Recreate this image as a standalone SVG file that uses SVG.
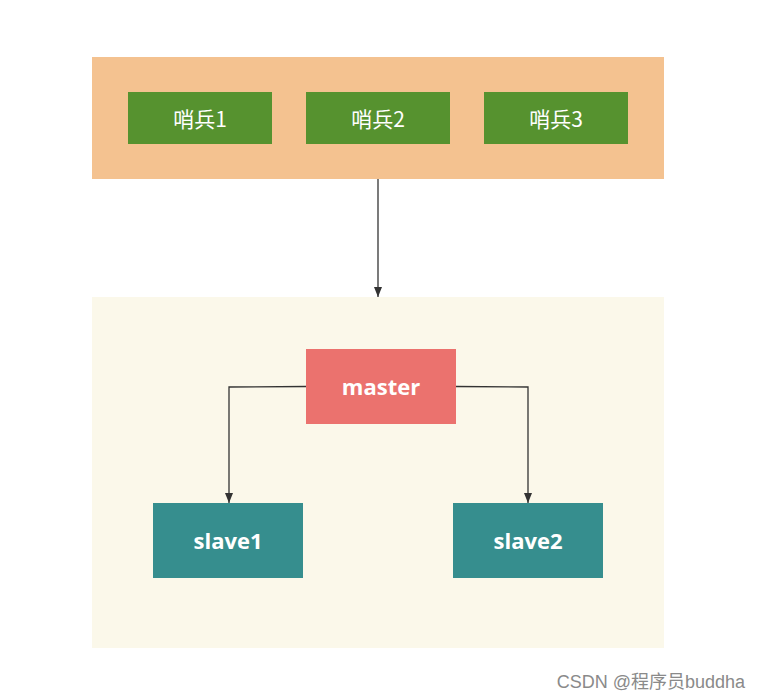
<svg xmlns="http://www.w3.org/2000/svg" width="759" height="700" viewBox="0 0 759 700">
<defs>
<marker id="arr" markerWidth="10" markerHeight="10" refX="10" refY="5" orient="auto" markerUnits="userSpaceOnUse" viewBox="0 0 10 10">
<path d="M0,1 L10,5 L0,9 Z" fill="#333"/>
</marker>
</defs>
<style>
.lbl{font-family:"Noto Sans CJK SC","Noto Sans",sans-serif;fill:#fff;text-anchor:middle;dominant-baseline:central}
.cn{font-size:21px}
.en{font-size:22px;font-weight:bold;font-family:"Open Sans","Noto Sans",sans-serif}
.green{fill:#56922F}
.teal{fill:#368E8E}
.conn{fill:none;stroke:#333;stroke-width:1.3}
</style>
<rect width="759" height="700" fill="#fff"/>
<g id="sentinels">
<rect x="92" y="57" width="572" height="122" fill="#F4C290"/>
</g>
<g id="sentinel1"><rect class="green" x="128" y="92" width="144" height="52"/><text class="lbl cn" x="200" y="118">哨兵1</text></g>
<g id="sentinel2"><rect class="green" x="306" y="92" width="144" height="52"/><text class="lbl cn" x="378" y="118">哨兵2</text></g>
<g id="sentinel3"><rect class="green" x="484" y="92" width="144" height="52"/><text class="lbl cn" x="556" y="118">哨兵3</text></g>
<g id="cluster"><rect x="92" y="297" width="572" height="351" fill="#FBF8EA"/></g>
<g id="master"><rect x="306" y="349" width="150" height="75" fill="#EB726E"/><text class="lbl en" x="381" y="386">master</text></g>
<g id="slave1"><rect class="teal" x="153" y="503" width="150" height="75"/><text class="lbl en" x="228" y="540">slave1</text></g>
<g id="slave2"><rect class="teal" x="453" y="503" width="150" height="75"/><text class="lbl en" x="528" y="540">slave2</text></g>
<g id="connectors">
<path class="conn" d="M378,179 L378,297" marker-end="url(#arr)"/>
<path class="conn" d="M306,386.5 L229,387 L229,503" marker-end="url(#arr)"/>
<path class="conn" d="M456,386.5 L528,387 L528,503" marker-end="url(#arr)"/>
</g>
<text x="745" y="688" font-family="'Liberation Sans','Noto Sans CJK SC',sans-serif" font-size="18" fill="#8a8a8a" text-anchor="end">CSDN @程序员buddha</text>
</svg>
